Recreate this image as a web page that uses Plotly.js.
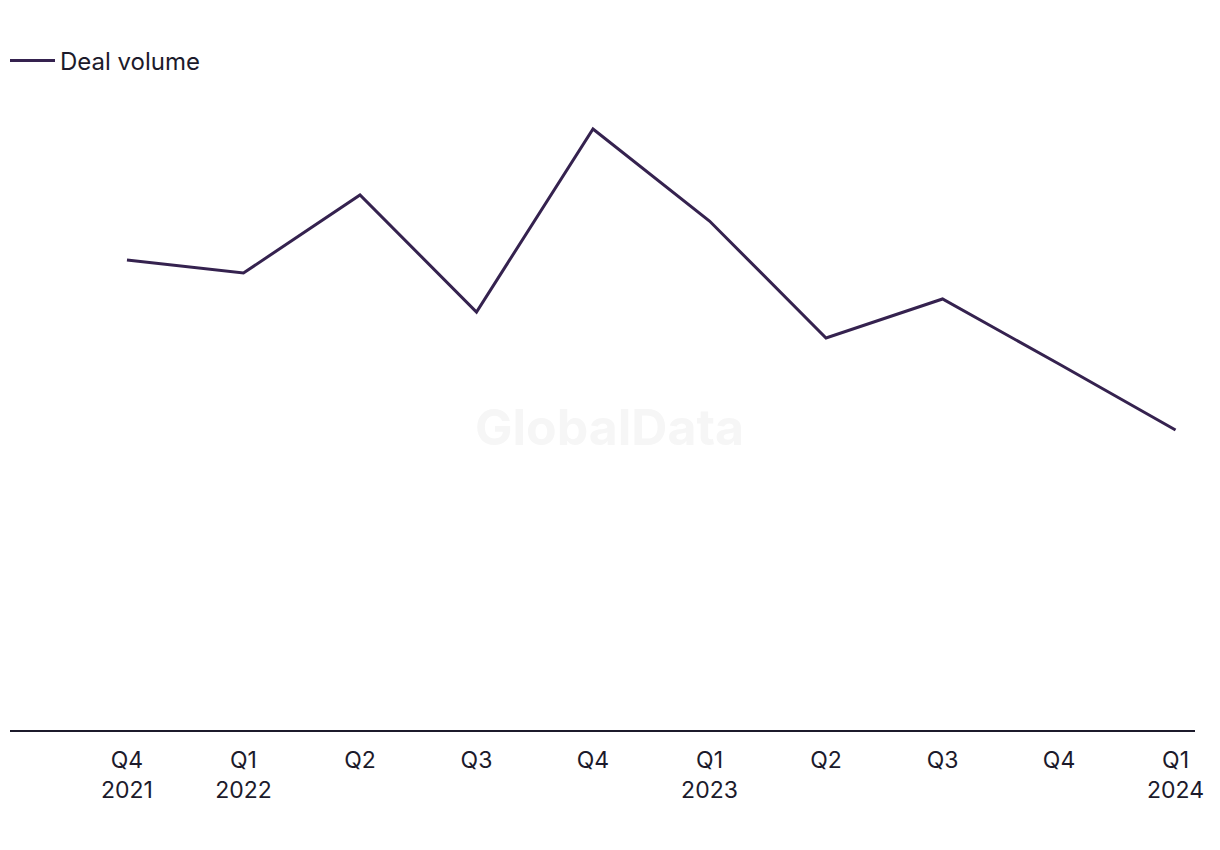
<!DOCTYPE html>
<html>
<head>
<meta charset="utf-8">
<script src="https://cdn.plot.ly/plotly-3.0.1.min.js"></script>
<style>html,body{margin:0;padding:0;background:#fff;}#chart{width:1220px;height:850px;}</style>
</head>
<body>
<div id="chart"></div>
<script>
const categories = ["Q4 2021","Q1 2022","Q2 2022","Q3 2022","Q4 2022","Q1 2023","Q2 2023","Q3 2023","Q4 2023","Q1 2024"];
const tickLabels = ["Q4<br>2021","Q1<br>2022","Q2","Q3","Q4","Q1<br>2023","Q2","Q3","Q4","Q1<br>2024"];
const dealVolume = [47, 45.7, 53.5, 41.8, 60.1, 50.9, 39.2, 43.1, 36.6, 30.0];

const fam = "Inter, 'Liberation Sans', Arial, sans-serif";
const textColor = "#1c1a2b";

Plotly.newPlot("chart", [{
  x: categories,
  y: dealVolume,
  type: "scatter",
  mode: "lines",
  name: "Deal volume",
  line: {color: "#35224f", width: 3}
}], {
  width: 1220, height: 850,
  margin: {l: 10, r: 25, t: 100, b: 120},
  paper_bgcolor: "#fff", plot_bgcolor: "#fff",
  font: {family: fam, size: 23, color: textColor},
  showlegend: true,
  legend: {x: 5/1220, y: 1 - 61/850, yref: "container", xref: "container", xanchor: "left", yanchor: "middle",
           orientation: "h", font: {family: fam, size: 24, color: textColor}, itemwidth: 45, bgcolor: "rgba(0,0,0,0)"},
  xaxis: {
    type: "category",
    range: [-1.004, 9.167],
    tickvals: categories, ticktext: tickLabels,
    showgrid: false, zeroline: false,
    showline: true, linecolor: "#1c1a2b", linewidth: 2,
    ticks: "", ticklabelstandoff: 8,
    tickfont: {family: fam, size: 23, color: textColor}
  },
  yaxis: {range: [0, 63], visible: false, showgrid: false, zeroline: false, fixedrange: true},
  annotations: [{
    text: "<b>GlobalData</b>", xref: "paper", yref: "paper", x: 0.506, y: 0.481,
    xanchor: "center", yanchor: "middle", showarrow: false,
    font: {family: fam, size: 50, color: "#f6f6f6"}
  }]
}, {displayModeBar: false, staticPlot: true});
</script>
</body>
</html>
